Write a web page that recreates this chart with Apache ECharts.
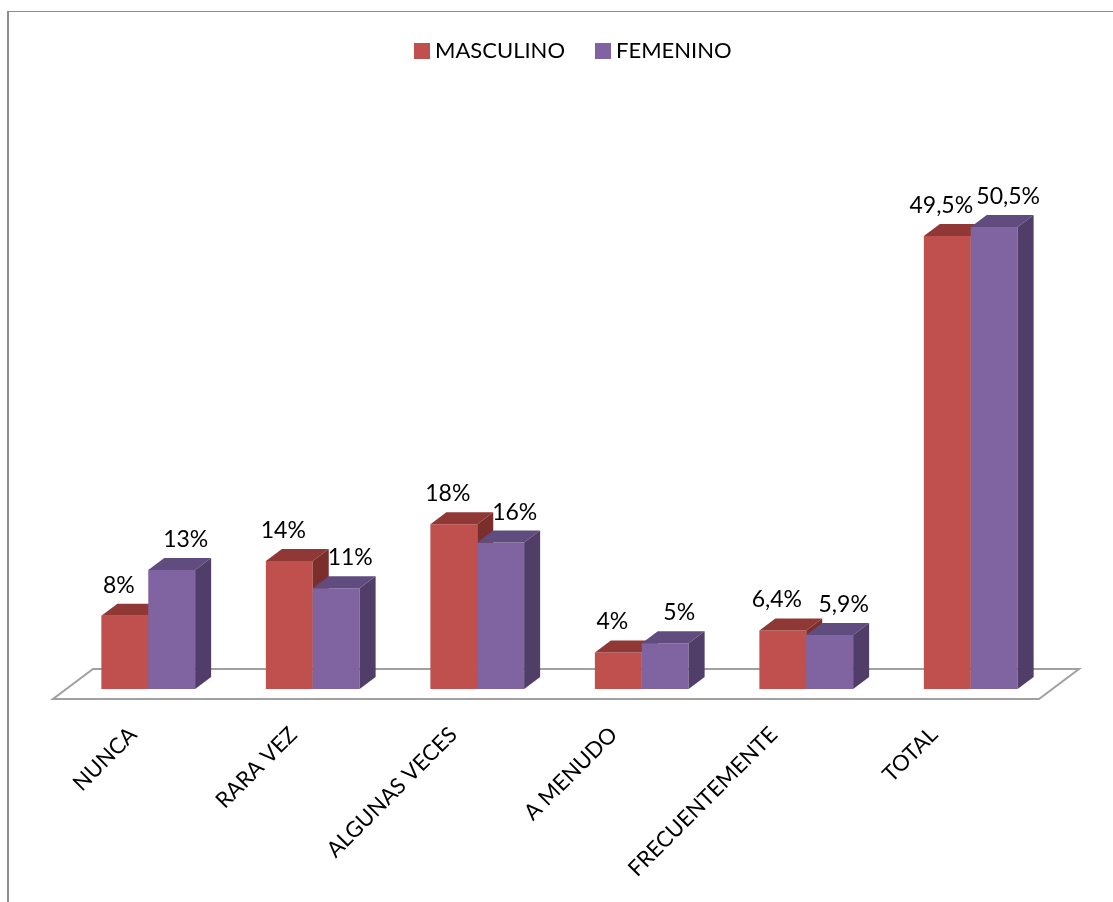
<!DOCTYPE html>
<html>
<head>
<meta charset="utf-8">
<script src="https://cdn.jsdelivr.net/npm/echarts@6/dist/echarts.min.js"></script>
<style>
  html, body { margin: 0; padding: 0; background: #fff; overflow: hidden; }
  #chart { width: 1113px; height: 902px; }
  #frame {
    position: absolute; left: 7px; top: 11px; width: 2000px; height: 2000px;
    border-left: 2px solid #8c8c8c; border-top: 1px solid #8c8c8c; pointer-events: none;
  }
</style>
</head>
<body>
<div id="chart"></div>
<div id="frame"></div>
<script>
var categories = ["NUNCA", "RARA VEZ", "ALGUNAS VECES", "A MENUDO", "FRECUENTEMENTE", "TOTAL"];
var masculino = [8, 14, 18, 4, 6.4, 49.5];
var femenino = [13, 11, 16, 5, 5.9, 50.5];
var seriesNames = ["MASCULINO", "FEMENINO"];

var FONT = "Lato";
var GAP = 0.43;      // barCategoryGap as a ratio
var DX = 16, DY = 12; // depth of the 3d bars
var colors = {
  red: { front: "#C0504D", top: "#8F3836", side: "#7A2F2D" },
  purple: { front: "#8064A2", top: "#614C80", side: "#503E68" }
};

function pct(p) {
  return String(p.value).replace(".", ",") + "%";
}

// top and side faces, drawn next to the bar series front face
function depth(slot, c) {
  return function (params, api) {
    var i = api.value(0);
    var base = api.coord([i, 0]);
    var top = api.coord([i, api.value(1)]);
    var bw = api.size([1, 0])[0] * (1 - GAP) / 2;
    var x0 = base[0] - bw + slot * bw;
    var x1 = x0 + bw;
    var yt = top[1], yb = base[1];
    return {
      type: "group",
      children: [
        { type: "polygon", shape: { points: [[x0, yt], [x1, yt], [x1 + DX, yt - DY], [x0 + DX, yt - DY]] },
          style: { fill: c.top } },
        { type: "polygon", shape: { points: [[x1, yt], [x1 + DX, yt - DY], [x1 + DX, yb - DY], [x1, yb]] },
          style: { fill: c.side } }
      ]
    };
  };
}

function floor(params, api) {
  var cs = params.coordSys;
  var yb = cs.y + cs.height;
  return {
    type: "polygon",
    shape: { points: [
      [cs.x - 13, yb + 10], [cs.x + cs.width - 14, yb + 10],
      [cs.x + cs.width + 26, yb - 20], [cs.x + 27, yb - 20]
    ] },
    style: { fill: "#fff", stroke: "#a0a0a0", lineWidth: 2 }
  };
}

var chart = echarts.init(document.getElementById("chart"));
var option = {
  animation: false,
  backgroundColor: "#fff",
  legend: {
    data: seriesNames,
    left: 409,
    top: 35,
    icon: "rect",
    itemWidth: 16,
    itemHeight: 16,
    itemGap: 30,
    textStyle: { fontFamily: FONT, fontSize: 22, color: "#000" }
  },
  grid: [
    { left: 66, right: 60, top: 140, bottom: 213 },
    { left: 53, right: 99, top: 140, bottom: 213 }
  ],
  xAxis: [
    { type: "category", data: categories, show: false },
    {
      type: "category", data: categories, gridIndex: 1,
      axisLine: { show: false }, axisTick: { show: false },
      axisLabel: { rotate: 45, margin: 42, interval: 0, fontFamily: FONT, fontSize: 22, color: "#000" }
    }
  ],
  yAxis: [
    { type: "value", min: 0, max: 60, show: false },
    { type: "value", min: 0, max: 60, show: false, gridIndex: 1 }
  ],
  series: [
    { type: "custom", name: "floor", silent: true, z: 0, data: [[0, 0]], renderItem: floor },
    {
      type: "bar", name: seriesNames[0], data: masculino, z: 1,
      barGap: 0, barCategoryGap: GAP * 100 + "%",
      itemStyle: { color: colors.red.front },
      label: { show: true, position: "top", distance: 19, offset: [-6, 0], formatter: pct,
        fontFamily: FONT, fontSize: 23, color: "#000" }
    },
    { type: "custom", name: "m3d", silent: true, z: 2, data: masculino.map(function (v, i) { return [i, v]; }),
      renderItem: depth(0, colors.red) },
    {
      type: "bar", name: seriesNames[1], data: femenino, z: 3,
      barGap: 0, barCategoryGap: GAP * 100 + "%",
      itemStyle: { color: colors.purple.front },
      label: { show: true, position: "top", distance: 19, offset: [14, 0], formatter: pct,
        fontFamily: FONT, fontSize: 23, color: "#000" }
    },
    { type: "custom", name: "f3d", silent: true, z: 4, data: femenino.map(function (v, i) { return [i, v]; }),
      renderItem: depth(1, colors.purple) }
  ]
};
chart.setOption(option);
</script>
</body>
</html>
